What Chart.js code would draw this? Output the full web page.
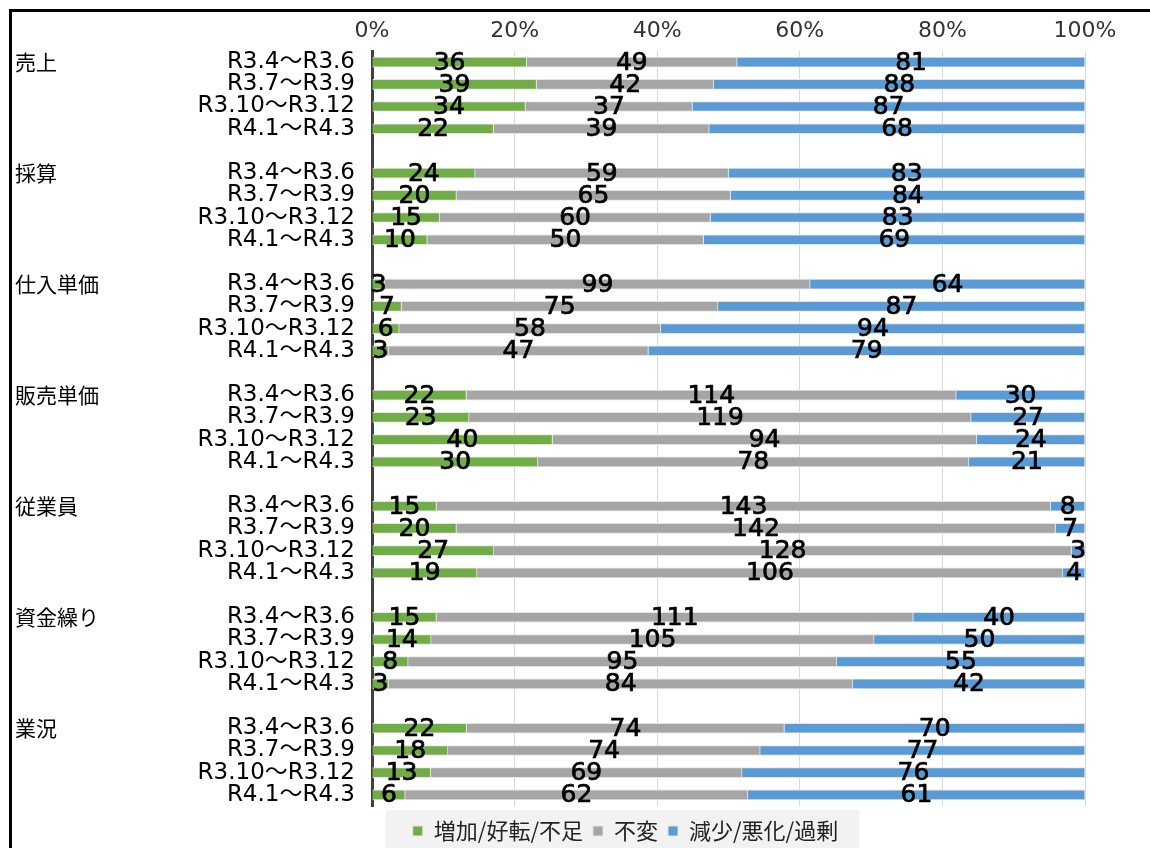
<!DOCTYPE html>
<html lang="ja">
<head>
<meta charset="utf-8">
<title>DI推移</title>
<script src="https://cdn.jsdelivr.net/npm/chart.js@4.4.1/dist/chart.umd.min.js"></script>
<style>
  html, body { margin: 0; padding: 0; background: #fff; overflow: hidden; }
  #frame {
    position: absolute; left: 9px; top: 9px;
    width: 1138px; height: 836px;
    border-left: 3px solid #000; border-top: 3px solid #000;
  }
  #frame canvas { display: block; }
</style>
</head>
<body>
<div id="frame"><canvas id="diChart" width="1138" height="836"></canvas></div>
<script>
// Categories
const groups = ['売上', '採算', '仕入単価', '販売単価', '従業員', '資金繰り', '業況'];
const periods = ['R3.4～R3.6', 'R3.7～R3.9', 'R3.10～R3.12', 'R4.1～R4.3'];
const seriesNames = ['増加/好転/不足', '不変', '減少/悪化/過剰'];

// Counts per group, 4 periods each
const increase  = [36, 39, 34, 22,  24, 20, 15, 10,  3, 7, 6, 3,  22, 23, 40, 30,  15, 20, 27, 19,  15, 14, 8, 3,  22, 18, 13, 6];
const unchanged = [49, 42, 37, 39,  59, 65, 60, 50,  99, 75, 58, 47,  114, 119, 94, 78,  143, 142, 128, 106,  111, 105, 95, 84,  74, 74, 69, 62];
const decrease  = [81, 88, 87, 68,  83, 84, 83, 69,  64, 87, 94, 79,  30, 27, 24, 21,  8, 7, 3, 4,  40, 50, 55, 42,  70, 77, 76, 61];

const seriesColors = ['#70AD47', '#A5A5A5', '#5B9BD5'];
const FONT_JP = '"Noto Sans CJK JP", "Noto Sans", sans-serif';
const FONT_LATIN = '"DejaVu Sans", "Noto Sans CJK JP", sans-serif';

// Build rows: 4 periods per group, one empty row between groups
const rowLabels = [];
const rowGroupStart = [];
const rawRows = [[], [], []];
groups.forEach((g, gi) => {
  if (gi > 0) {
    rowLabels.push('');
    rawRows.forEach(r => r.push(null));
  }
  rowGroupStart.push(rowLabels.length);
  periods.forEach((p, pi) => {
    const k = gi * periods.length + pi;
    rowLabels.push(p);
    rawRows[0].push(increase[k]);
    rawRows[1].push(unchanged[k]);
    rawRows[2].push(decrease[k]);
  });
});

// 100% stacked shares
const pctRows = rawRows.map(r => r.map((v, i) => {
  if (v === null) return null;
  const total = rawRows[0][i] + rawRows[1][i] + rawRows[2][i];
  return v / total * 100;
}));

// Count labels drawn centered in each segment
const countLabels = {
  id: 'countLabels',
  afterDatasetsDraw(chart) {
    const ctx = chart.ctx;
    ctx.save();
    ctx.font = '25px ' + FONT_LATIN;
    ctx.fillStyle = '#000';
    ctx.strokeStyle = '#000';
    ctx.lineWidth = 0.7;
    ctx.textAlign = 'center';
    ctx.textBaseline = 'middle';
    chart.data.datasets.forEach((ds, di) => {
      const meta = chart.getDatasetMeta(di);
      meta.data.forEach((bar, i) => {
        const v = rawRows[di][i];
        if (v === null) return;
        const x = (bar.x + bar.base) / 2;
        ctx.fillText(String(v), x, bar.y + 1);
        ctx.strokeText(String(v), x, bar.y + 1);
      });
    });
    ctx.restore();
  }
};

// Group names on the far left, on the first period row
const groupNames = {
  id: 'groupNames',
  afterDraw(chart) {
    const ctx = chart.ctx;
    const y = chart.scales.y;
    ctx.save();
    ctx.font = '21px ' + FONT_JP;
    ctx.fillStyle = '#000';
    ctx.textAlign = 'left';
    ctx.textBaseline = 'middle';
    groups.forEach((g, gi) => {
      ctx.fillText(g, y.left + 3, y.getPixelForValue(rowGroupStart[gi]));
    });
    ctx.restore();
  }
};

// Shift legend a bit right/down and give it a light background
const legendBox = {
  id: 'legendBox',
  afterLayout(chart) {
    chart.legend.left += 77;
    chart.legend.right += 77;
    chart.legend.top += 4;
    chart.legend.bottom += 4;
  },
  beforeDraw(chart) {
    const boxes = chart.legend.legendHitBoxes;
    if (!boxes || !boxes.length) return;
    const l = Math.min(...boxes.map(b => b.left)) - 27;
    const r = Math.max(...boxes.map(b => b.left + b.width)) + 21;
    const ctx = chart.ctx;
    ctx.save();
    ctx.fillStyle = '#f2f2f2';
    ctx.fillRect(l, chart.legend.top, r - l, chart.height - chart.legend.top);
    ctx.restore();
  }
};

const ctx = document.getElementById('diChart').getContext('2d');
new Chart(ctx, {
  type: 'bar',
  data: {
    labels: rowLabels,
    datasets: seriesNames.map((name, i) => ({
      label: name,
      data: pctRows[i],
      backgroundColor: seriesColors[i],
      borderColor: '#e4e4e4',
      borderWidth: 1,
      barThickness: 10
    }))
  },
  options: {
    indexAxis: 'y',
    responsive: false,
    animation: false,
    layout: { padding: { left: 0, right: 65, top: 0, bottom: 0 } },
    plugins: {
      tooltip: { enabled: false },
      legend: {
        position: 'bottom',
        labels: {
          font: { family: FONT_JP, size: 22 },
          color: '#222',
          boxWidth: 10,
          boxHeight: 10,
          padding: 10
        }
      }
    },
    scales: {
      x: {
        position: 'top',
        stacked: true,
        min: 0,
        max: 100,
        afterFit(scale) { scale.height = 39; },
        ticks: {
          stepSize: 20,
          padding: 7,
          color: '#333',
          font: { family: FONT_LATIN, size: 22 },
          callback: v => v + '%'
        },
        grid: { color: '#d9d9d9', drawTicks: false },
        border: { display: false }
      },
      y: {
        stacked: true,
        afterFit(scale) { scale.width = 360; },
        ticks: {
          autoSkip: false,
          padding: 17,
          color: '#000',
          font: { family: FONT_LATIN, size: 23 }
        },
        grid: { display: false, drawTicks: false },
        border: { color: '#404040', width: 3 }
      }
    }
  },
  plugins: [countLabels, groupNames, legendBox]
});
</script>
</body>
</html>
